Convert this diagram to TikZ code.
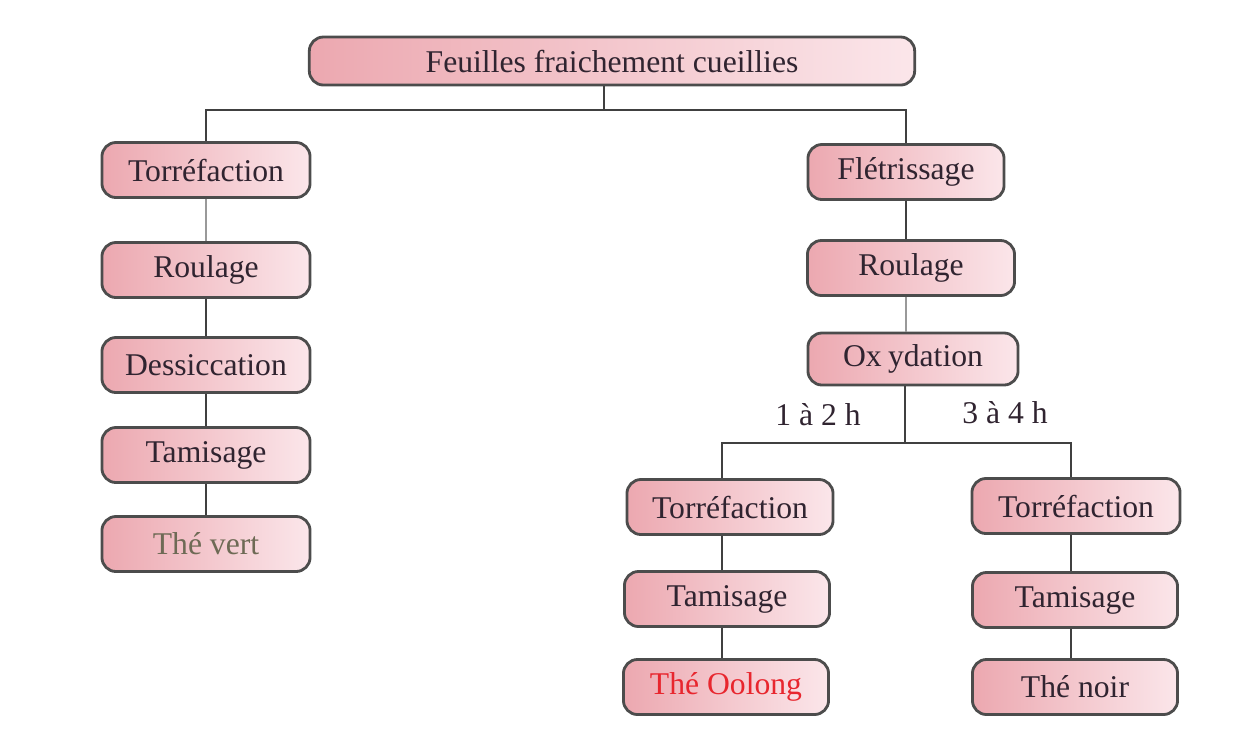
\documentclass[tikz,border=0pt]{standalone}
\usepackage{xcolor}
\usepackage{fontspec}
\setmainfont{Liberation Serif}
\usepackage{tikz}
\usetikzlibrary{positioning}

\definecolor{rosefonce}{RGB}{236,168,176}
\definecolor{roseclair}{RGB}{251,230,234}
\definecolor{encre}{RGB}{48,36,48}
\definecolor{olive}{RGB}{110,106,85}
\definecolor{oolong}{RGB}{232,38,46}

\begin{document}
\begin{tikzpicture}[
    x=0.01cm, y=-0.01cm,
    etape/.style={draw=black!70, line width=0.8pt, rounded corners=4pt,
        left color=rosefonce, right color=roseclair, text=encre,
        minimum width=2.08cm, minimum height=0.55cm, inner sep=2pt,
        font=\fontsize{9}{11}\selectfont},
    lien/.style={draw=black!75, line width=0.8pt},
    lienclair/.style={draw=black!40, line width=0.8pt},
    heure/.style={text=encre, font=\fontsize{9}{11}\selectfont}
]
\useasboundingbox (0,0) rectangle (1257,744);

\node[etape, minimum width=6.05cm, minimum height=0.48cm] (feuilles) at (612,61) {Feuilles fraichement cueillies};

% the green tea line
\node[etape] (torrA) at (206,170) {Torréfaction};
\node[etape] (roulA) at (206,270) {Roulage};
\node[etape] (dessA) at (206,365) {Dessiccation};
\node[etape] (tamA)  at (206,455) {Tamisage};
\node[etape, text=olive] (vert) at (206,544) {Thé vert};

% the oxidised line
\node[etape, minimum width=1.96cm] (fletr) at (906,172) {Flétrissage};
\node[etape, minimum width=2.07cm] (roulB) at (911,268) {Roulage};
\node[etape, minimum width=2.10cm, minimum height=0.52cm] (oxyd) at (913,359) {Ox\hspace{0.2em}ydation};

\node[etape, minimum width=2.06cm] (torrB) at (730,507) {Torréfaction};
\node[etape, minimum width=2.05cm] (tamB)  at (727,599) {Tamisage};
\node[etape, minimum width=2.05cm, text=oolong] (oolong) at (726,687) {Thé Oolong};

\node[etape] (torrC) at (1076,506) {Torréfaction};
\node[etape, minimum width=2.05cm] (tamC) at (1075,600) {Tamisage};
\node[etape, minimum width=2.05cm] (noir) at (1075,687) {Thé noir};

\node[heure] (h12) at (818,415) {1 à 2 h};
\node[heure] (h34) at (1005,413) {3 à 4 h};

% connectors
\coordinate (barre) at (604,110);
\coordinate (colB) at (722,0);
\coordinate (colC) at (1071,0);
\draw[lien] (barre) -- (barre |- feuilles.south);
\draw[lien] (barre) -| (torrA);
\draw[lien] (barre) -| (fletr);

\draw[lienclair] (torrA) -- (roulA);
\draw[lien] (roulA) -- (dessA);
\draw[lien] (dessA) -- (tamA);
\draw[lien] (tamA) -- (vert);

\draw[lien] (fletr.south -| 906,0) -- (roulB.north -| 906,0);
\draw[lienclair] (roulB.south -| 906,0) -- (oxyd.north -| 906,0);

\coordinate (fourche) at (905,443);
\draw[lien] (oxyd.south -| fourche) -- (fourche);
\draw[lien] (fourche) -| (torrB.north -| colB);
\draw[lien] (fourche) -| (torrC.north -| colC);

\draw[lien] (torrB.south -| colB) -- (tamB.north -| colB);
\draw[lien] (tamB.south -| colB) -- (oolong.north -| colB);
\draw[lien] (torrC.south -| colC) -- (tamC.north -| colC);
\draw[lien] (tamC.south -| colC) -- (noir.north -| colC);
\end{tikzpicture}
\end{document}
